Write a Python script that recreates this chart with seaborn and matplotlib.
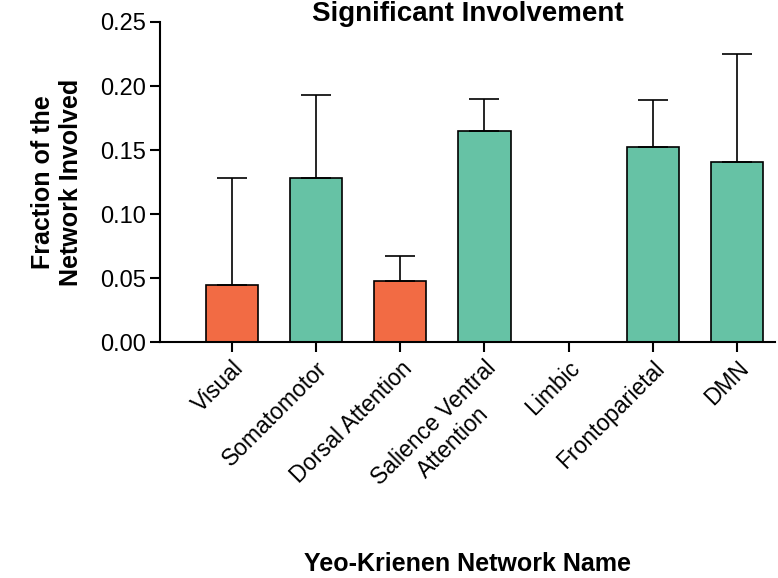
import matplotlib
matplotlib.use("Agg")
import matplotlib.pyplot as plt
import seaborn as sns
import pandas as pd
import numpy as np

networks = ["Visual", "Somatomotor", "Dorsal Attention", "Salience Ventral\nAttention",
            "Limbic", "Frontoparietal", "DMN"]
fraction = [0.045, 0.128, 0.048, 0.165, 0.0, 0.152, 0.141]
upper_err = [0.083, 0.065, 0.019, 0.025, 0.0, 0.037, 0.084]
colors = ["#F26B44", "#66C2A5", "#F26B44", "#66C2A5", "#66C2A5", "#66C2A5", "#66C2A5"]

sns.set_style("ticks")
plt.rcParams['font.family'] = ['Liberation Sans', 'DejaVu Sans']
plt.rcParams['text.color'] = 'black'
plt.rcParams['axes.labelcolor'] = 'black'
plt.rcParams['xtick.color'] = 'black'
plt.rcParams['ytick.color'] = 'black'

df = pd.DataFrame({"network": networks, "fraction": fraction})
fig = plt.figure(figsize=(7.78, 5.78), dpi=100)
ax = fig.add_axes([0.206, 0.408, 0.79, 0.554])
sns.barplot(data=df, x="network", y="fraction", hue="network", palette=colors,
            legend=False, width=0.62, edgecolor="black", linewidth=1.2, ax=ax,
            saturation=1)
ax.errorbar(np.arange(len(networks)), fraction, yerr=[np.zeros(len(networks)), upper_err],
            fmt="none", ecolor="black", elinewidth=1.2, capsize=11, capthick=1.2)
ax.set_ylim(0, 0.25)
ax.set_xlim(-0.85, 6.45)
ax.set_yticks([0, 0.05, 0.10, 0.15, 0.20, 0.25])
ax.set_yticklabels(["0.00", "0.05", "0.10", "0.15", "0.20", "0.25"], fontsize=17)
ax.set_xticks(range(len(networks)))
ax.set_xticklabels(networks, rotation=45, ha="right", rotation_mode="anchor", fontsize=16.5,
                   multialignment="center")
ax.tick_params(width=1.5, length=7, color="black")
for s in ["left", "bottom"]:
    ax.spines[s].set_linewidth(1.5)
    ax.spines[s].set_color("black")
for s in ["top", "right"]:
    ax.spines[s].set_visible(False)
ax.set_xlabel("Yeo-Krienen Network Name", fontsize=18, fontweight="bold", labelpad=31)
ax.set_ylabel("Fraction of the\nNetwork Involved", fontsize=18, fontweight="bold", labelpad=12)
ax.set_title("Significant Involvement", fontsize=20, fontweight="bold", y=0.978)
fig.savefig("out.png", dpi=100)
